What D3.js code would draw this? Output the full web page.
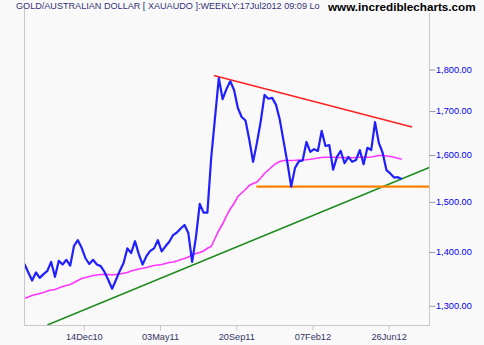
<!DOCTYPE html>
<html>
<head>
<meta charset="utf-8">
<script src="https://cdn.jsdelivr.net/npm/d3@7"></script>
<style>
  html, body { margin: 0; padding: 0; background: #f9f9f9; }
  svg { display: block; font-family: "Liberation Sans", Arial, sans-serif; }
</style>
</head>
<body>
<div id="chart"></div>
<script>
// weekly closes, first bar dated 27 Aug 2010
var firstWeek = '2010-08-27';
var closes = [
  1377, 1361, 1346, 1361, 1351, 1358, 1364, 1381, 1353, 1383,
  1376, 1385, 1374, 1412, 1423, 1408, 1388, 1377, 1385, 1376,
  1373, 1362, 1347, 1331, 1347, 1364, 1379, 1407, 1398, 1421,
  1396, 1376, 1392, 1402, 1407, 1423, 1401, 1411, 1420, 1433,
  1438, 1446, 1453, 1437, 1381, 1429, 1496, 1478, 1478, 1594,
  1684, 1779, 1728, 1752, 1771, 1750, 1707, 1686, 1678, 1634,
  1585, 1627, 1676, 1738, 1729, 1731, 1715, 1680, 1631, 1583,
  1532, 1572, 1586, 1588, 1629, 1607, 1613, 1609, 1654, 1620,
  1622, 1568, 1596, 1609, 1582, 1596, 1585, 1589, 1611, 1580,
  1616, 1611, 1674, 1627, 1605, 1567, 1560, 1551, 1552, 1548
];
var movingAvg = [
  1313.5, 1315.9, 1318.6, 1320.4, 1322.2, 1324.1, 1326.8, 1328.6, 1329.6, 1332.3,
  1335.1, 1336.9, 1338.7, 1342.4, 1346.1, 1349.8, 1351.7, 1353.6, 1355.4, 1356.4,
  1357.3, 1357.7, 1357.3, 1356.4, 1357.3, 1358.2, 1359.6, 1361.1, 1363.9, 1365.7,
  1367.6, 1368.9, 1370.5, 1372.3, 1374.2, 1375.2, 1376.1, 1378.0, 1379.9, 1380.9,
  1382.8, 1385.6, 1387.5, 1390.4, 1394.3, 1397.1, 1399.0, 1401.9, 1407.2, 1410.6,
  1426.3, 1442.1, 1455.0, 1471.2, 1485.4, 1496.7, 1511.2, 1518.5, 1525.8, 1534.2,
  1538.5, 1541.7, 1550.2, 1559.8, 1567.4, 1574.9, 1581.5, 1585.8, 1588.0, 1588.0,
  1588.0, 1588.4, 1589.1, 1589.1, 1589.7, 1590.6, 1591.7, 1593.5, 1594.6, 1595.0,
  1595.0, 1595.0, 1594.6, 1594.6, 1594.3, 1594.1, 1594.1, 1594.6, 1595.0, 1595.0,
  1595.0, 1595.7, 1597.2, 1599.0, 1599.0, 1597.9, 1596.8, 1595.0, 1592.8, 1590.8
];
var dateTicks = ['2010-12-14', '2011-05-03', '2011-09-20', '2012-02-07', '2012-06-26'];
var priceTicks = [1300, 1400, 1500, 1600, 1700, 1800];

// hand drawn trend lines: [date, price] end points
var resistanceLine = [['2011-08-10', 1785], ['2012-08-08', 1663]];
var supportLine = [['2011-10-27', 1532], ['2012-09-09', 1532]];
var uptrendLine = [['2010-10-08', 1266], ['2012-09-09', 1573]];

var titleText = 'GOLD/AUSTRALIAN DOLLAR [ XAUAUDO ]:WEEKLY:17Jul2012 09:09 Lo';

var W = 484, H = 345;
var plot = { left: 24, right: 429, top: 3, bottom: 325 };
var bg = '#f9f9f9';

var parse = d3.utcParse('%Y-%m-%d');
var start = parse(firstWeek);
var weeks = closes.map(function (c, i) {
  return {
    date: d3.utcDay.offset(start, 7 * i),
    close: c,
    avg: movingAvg[i]
  };
});

var x = d3.scaleUtc()
  .domain([weeks[0].date, weeks[weeks.length - 1].date])
  .range([24.5, 401.7]);
var y = d3.scaleLog()
  .domain([1300, 1800])
  .range([305.8, 69.5]);

var svg = d3.select('#chart').append('svg')
  .attr('width', W).attr('height', H)
  .attr('viewBox', '0 0 ' + W + ' ' + H);

svg.append('rect').attr('width', W).attr('height', H).attr('fill', bg);

// frame: left, right and bottom only
svg.append('path')
  .attr('d', 'M' + (plot.left + 0.5) + ',' + plot.top + ' V' + (plot.bottom + 0.5) +
    ' H' + (plot.right + 0.5) + ' V' + plot.top)
  .attr('fill', 'none').attr('stroke', '#c8c8c8').attr('stroke-width', 1);

// x axis
var xAxis = d3.axisBottom(x)
  .tickValues(dateTicks.map(parse))
  .tickFormat(d3.utcFormat('%d%b%y'))
  .tickSize(5).tickSizeOuter(0);
var gx = svg.append('g').attr('transform', 'translate(0,' + (plot.bottom + 0.5) + ')').call(xAxis);
gx.select('.domain').remove();
gx.selectAll('.tick line').attr('stroke', '#c8c8c8');
gx.selectAll('.tick text')
  .attr('y', 8).attr('dy', '0.71em')
  .attr('fill', '#333366').attr('font-size', 9.2)
  .attr('font-family', '"Liberation Sans", Arial, sans-serif');

// y axis on the right
var yAxis = d3.axisRight(y)
  .tickValues(priceTicks)
  .tickFormat(d3.format(',.2f'))
  .tickSize(6).tickSizeOuter(0);
var gy = svg.append('g').attr('transform', 'translate(' + (plot.right + 0.5) + ',0)').call(yAxis);
gy.select('.domain').remove();
gy.selectAll('.tick line').attr('stroke', '#9a9ab0');
gy.selectAll('.tick text')
  .attr('x', 6.5)
  .attr('fill', '#0000ee').attr('font-size', 9.2)
  .attr('font-family', '"Liberation Sans", Arial, sans-serif');

var clip = svg.append('clipPath').attr('id', 'plotclip');
clip.append('rect')
  .attr('x', plot.left + 1).attr('y', plot.top)
  .attr('width', plot.right - plot.left - 1).attr('height', plot.bottom - plot.top);

var marks = svg.append('g').attr('clip-path', 'url(#plotclip)');

function trend(points, colour, width) {
  marks.append('line')
    .attr('x1', x(parse(points[0][0]))).attr('y1', y(points[0][1]))
    .attr('x2', x(parse(points[1][0]))).attr('y2', y(points[1][1]))
    .attr('stroke', colour).attr('stroke-width', width);
}

trend(uptrendLine, '#1f8c1f', 1.5);
trend(supportLine, '#ff8000', 2.2);
trend(resistanceLine, '#ff2222', 1.6);

var avgLine = d3.line()
  .x(function (d) { return x(d.date); })
  .y(function (d) { return y(d.avg); });
marks.append('path').datum(weeks)
  .attr('d', avgLine)
  .attr('fill', 'none').attr('stroke', '#ff33ff').attr('stroke-width', 1.6);

var closeLine = d3.line()
  .x(function (d) { return x(d.date); })
  .y(function (d) { return y(d.close); });
marks.append('path').datum(weeks)
  .attr('d', closeLine)
  .attr('fill', 'none').attr('stroke', '#1f1fff')
  .attr('stroke-width', 2.2).attr('stroke-linejoin', 'round');

// header
svg.append('text')
  .attr('x', 16).attr('y', 9.3)
  .attr('font-size', 9.1).attr('fill', '#333377')
  .text(titleText);
svg.append('rect')
  .attr('x', 327).attr('y', 0).attr('width', W - 327).attr('height', 13)
  .attr('fill', bg);
svg.append('text')
  .attr('x', 328).attr('y', 11)
  .attr('font-size', 11.7).attr('font-weight', 'bold').attr('fill', '#000')
  .text('www.incrediblecharts.com');
</script>
</body>
</html>
